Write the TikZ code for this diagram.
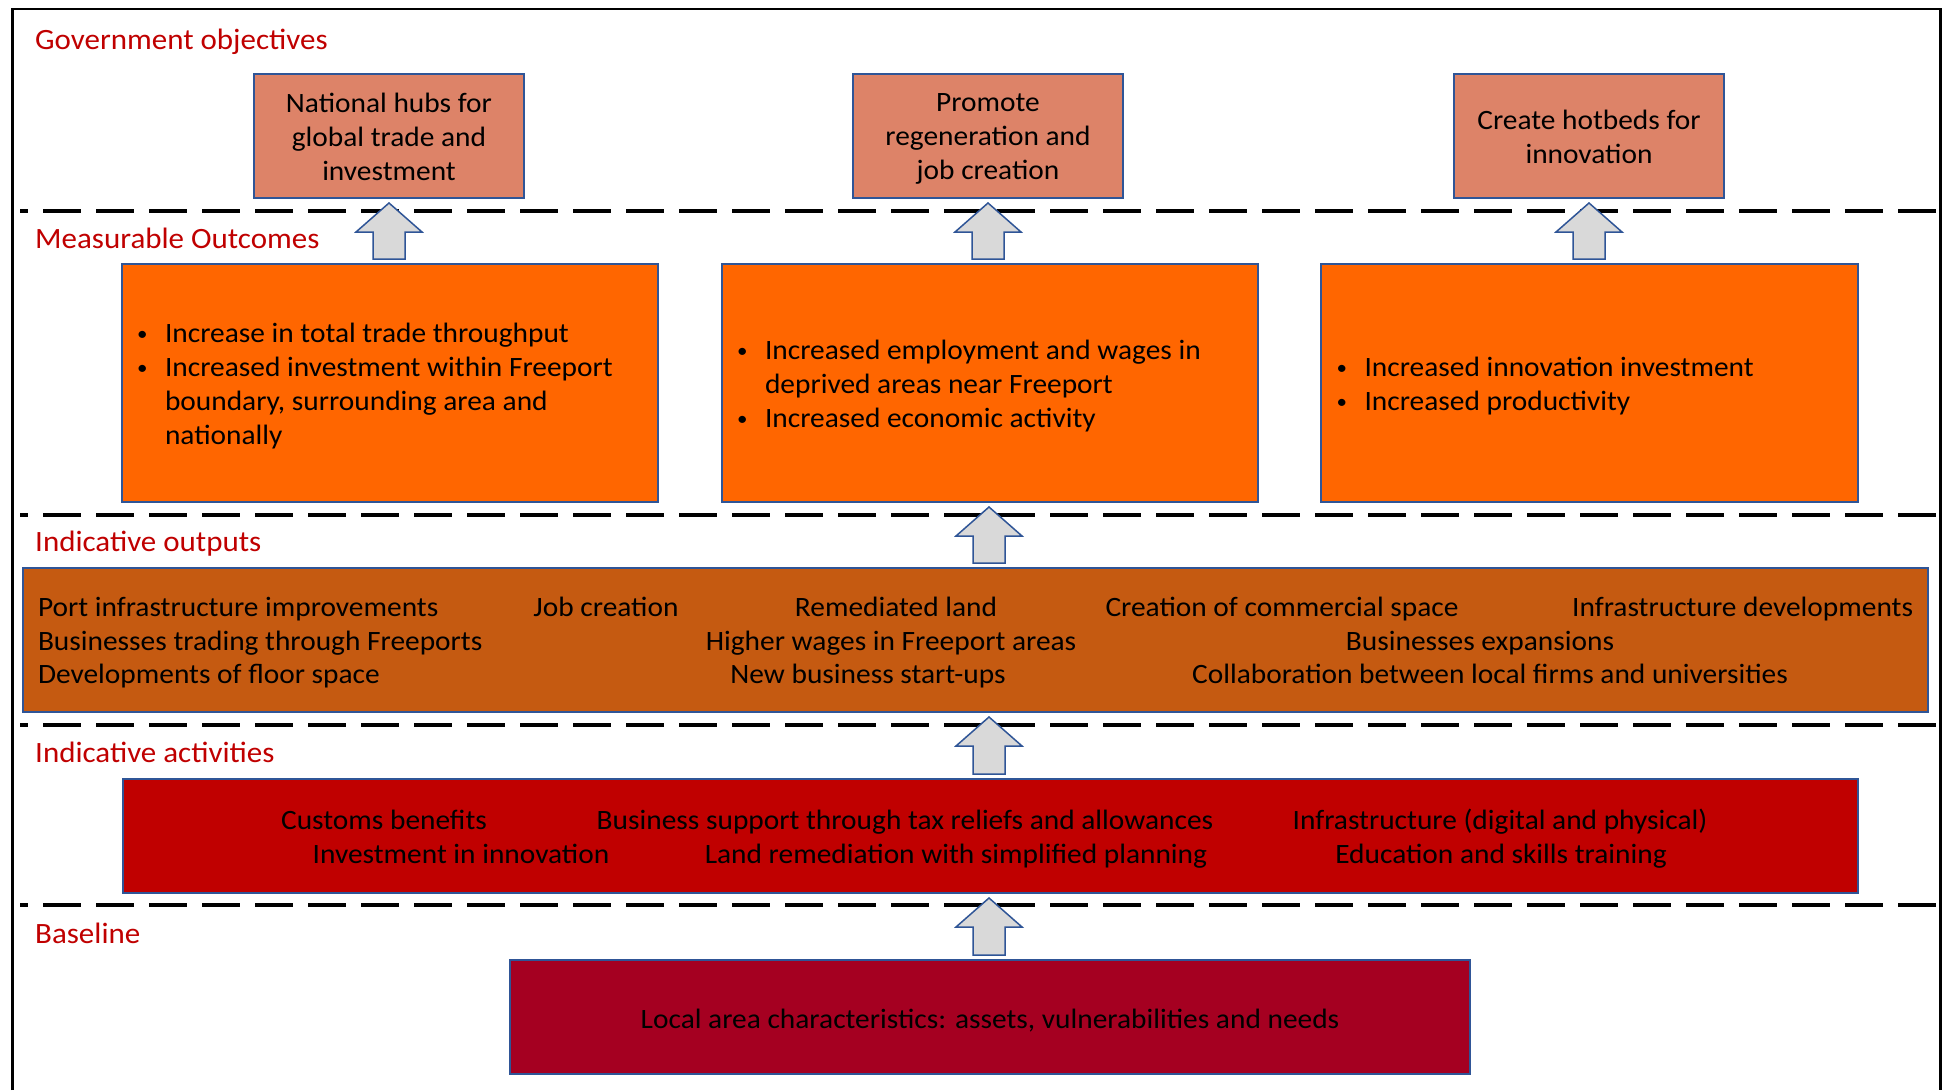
\documentclass[tikz,border=0pt]{standalone}
\usepackage{fontspec}
\setmainfont{Carlito}[FakeStretch=1.05]
\usetikzlibrary{calc}
\definecolor{titlered}{RGB}{192,0,0}
\definecolor{objfill}{RGB}{221,131,104}
\definecolor{boxblue}{RGB}{47,85,151}
\definecolor{outcomefill}{RGB}{255,102,0}
\definecolor{outputfill}{RGB}{197,90,17}
\definecolor{actfill}{RGB}{192,0,0}
\definecolor{basefill}{RGB}{165,0,33}
\definecolor{arrowfill}{RGB}{217,217,217}
\newcommand{\LS}{\rule[-4pt]{0pt}{28.5pt}}
\newcommand{\bul}{\makebox[30pt][l]{\hspace{2pt}\raisebox{2.5pt}{\fontsize{20}{20}\selectfont •}}}
\newcommand{\upblock}[3]{%
  \draw[blockarrow] let \p1=(#2.north), \p2=(#3.south) in
    ({#1pt-16pt},{\y1+5pt}) -- ({#1pt+16pt},{\y1+5pt}) -- ({#1pt+16pt},{\y2-34pt})
    -- ({#1pt+33pt},{\y2-34pt}) -- ({#1pt},{\y2-5pt}) -- ({#1pt-33pt},{\y2-34pt})
    -- ({#1pt-16pt},{\y2-34pt}) -- cycle;}
\begin{document}
\begin{tikzpicture}[x=1pt,y=-1pt,
  sectitle/.style={anchor=base west, inner sep=0pt, text=titlered, font=\fontsize{29.5}{34}\selectfont},
  bodytext/.style={inner sep=0pt, outer sep=0pt, font=\fontsize{28}{34}\selectfont},
  box/.style={draw=boxblue, line width=2pt, inner sep=0pt, outer sep=0pt, font=\fontsize{28}{34}\selectfont},
  objbox/.style={box, fill=objfill, minimum width=270pt, minimum height=124pt, align=center},
  outbox/.style={box, fill=outcomefill, minimum width=536pt, minimum height=238pt},
  sepline/.style={line width=4.5pt, dash pattern=on 38pt off 15pt, dash phase=30pt},
  blockarrow/.style={draw=boxblue, line width=1.5pt, fill=arrowfill, line join=miter}
]
\useasboundingbox (0,0) rectangle (1942,1090);
\fill[white] (0,0) rectangle (1942,1090);
% frame
\draw[line width=2.5pt] (12.5,1090) -- (12.5,9) -- (1940.5,9) -- (1940.5,1090);
% separators
\draw[sepline] (20,211) -- (1937,211);
\draw[sepline] (20,515) -- (1937,515);
\draw[sepline] (20,725) -- (1937,725);
\draw[sepline] (20,905) -- (1937,905);
% section titles
\node[sectitle] (t1) at (35,49) {Government objectives};
\node[sectitle] (t2) at (35,248) {Measurable Outcomes};
\node[sectitle] (t3) at (35,551) {Indicative outputs};
\node[sectitle] (t4) at (35,762) {Indicative activities};
\node[sectitle] (t5) at (35,943) {Baseline};
% objectives
\node[objbox] (g1) at (389,136) {\LS National hubs for\\\LS global trade and\\\LS investment};
\node[objbox] (g2) at (988,136) {\LS Promote\\\LS regeneration and\\\LS job creation};
\node[objbox] (g3) at (1589,136) {\LS Create hotbeds for\\\LS innovation};
% outcomes
\node[outbox] (m1) at (390,383) {};
\node[outbox] (m2) at (990,383) {};
\node[outbox, minimum width=537pt] (m3) at (1589,383) {};
\node[bodytext, anchor=west] (m1t) at ($(m1.west)+(13,4)$) {\begin{tabular}{@{}l@{}l@{}}\bul&Increase in total trade throughput\\ \bul&Increased investment within Freeport\\ &boundary, surrounding area and\\ &nationally\end{tabular}};
\node[bodytext, anchor=west] (m2t) at ($(m2.west)+(13,4)$) {\begin{tabular}{@{}l@{}l@{}}\bul&Increased employment and wages in\\ &deprived areas near Freeport\\ \bul&Increased economic activity\end{tabular}};
\node[bodytext, anchor=west] (m3t) at ($(m3.west)+(14,4)$) {\begin{tabular}{@{}l@{}l@{}}\bul&Increased innovation investment\\ \bul&Increased productivity\end{tabular}};
% outputs
\node[box, fill=outputfill, minimum width=1905pt, minimum height=144pt] (outs) at (975,640) {};
\node[bodytext, anchor=base west] (o1) at (38,616) {Port infrastructure improvements};
\node[bodytext, anchor=base] (o2) at (606,616) {Job creation};
\node[bodytext, anchor=base] (o3) at (896,616) {Remediated land};
\node[bodytext, anchor=base] (o4) at (1282,616) {Creation of commercial space};
\node[bodytext, anchor=base east] (o5) at (1913,616) {Infrastructure developments};
\node[bodytext, anchor=base west] (o6) at (38,650) {Businesses trading through Freeports};
\node[bodytext, anchor=base] (o7) at (891,650) {Higher wages in Freeport areas};
\node[bodytext, anchor=base] (o8) at (1480,650) {Businesses expansions};
\node[bodytext, anchor=base west] (o9) at (38,683) {Developments of floor space};
\node[bodytext, anchor=base] (o10) at (868,683) {New business start-ups};
\node[bodytext, anchor=base] (o11) at (1490,683) {Collaboration between local firms and universities};
% activities
\node[box, fill=actfill, minimum width=1735pt, minimum height=114pt] (acts) at (990,836) {};
\node[bodytext, anchor=base] (a1) at (384,829) {Customs benefits};
\node[bodytext, anchor=base] (a2) at (905,829) {Business support through tax reliefs and allowances};
\node[bodytext, anchor=base] (a3) at (1500,829) {Infrastructure (digital and physical)};
\node[bodytext, anchor=base] (a4) at (461,863) {Investment in innovation};
\node[bodytext, anchor=base] (a5) at (956,863) {Land remediation with simplified planning};
\node[bodytext, anchor=base] (a6) at (1501,863) {Education and skills training};
% baseline
\node[box, fill=basefill, minimum width=960pt, minimum height=114pt] (base) at (990,1017) {\rule[-4pt]{0pt}{31pt}Local area characteristics: assets, vulnerabilities and needs};
% arrows
\upblock{389}{m1}{g1}
\upblock{988}{m2}{g2}
\upblock{1589}{m3}{g3}
\upblock{989}{outs}{m2}
\upblock{989}{acts}{outs}
\upblock{989}{base}{acts}
\end{tikzpicture}
\end{document}
